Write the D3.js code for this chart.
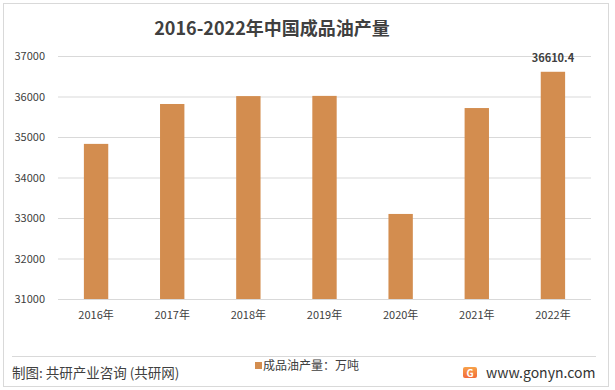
<!DOCTYPE html>
<html lang="zh">
<head>
<meta charset="utf-8">
<title>2016-2022年中国成品油产量</title>
<script src="https://cdn.jsdelivr.net/npm/d3@7"></script>
<style>
  body { margin: 0; background: #fff; }
  text { font-family: "Noto Sans CJK SC", "Noto Sans", sans-serif; }
  .grid line { stroke: #d9d9d9; }
  .grid path { display: none; }
  .tick text { fill: #404040; font-size: 11px; }
</style>
</head>
<body>
<script>
// data
var years = ["2016年", "2017年", "2018年", "2019年", "2020年", "2021年", "2022年"];
var output = [34830, 35815, 36010, 36015, 33100, 35715, 36610.4];
var yTicks = [31000, 32000, 33000, 34000, 35000, 36000, 37000];

var w = 615, h = 390;
var plotLeft = 58, plotRight = 591, plotTop = 56, plotBottom = 299;

var svg = d3.select("body").append("svg")
  .attr("width", w)
  .attr("height", h);

// outer frame
svg.append("rect")
  .attr("x", 3.5).attr("y", 3.5)
  .attr("width", 605).attr("height", 383)
  .attr("fill", "#fff")
  .attr("stroke", "#d9d9d9");

var x = d3.scaleBand().domain(years).range([plotLeft, plotRight]).paddingInner(0.68).paddingOuter(0.34);
var y = d3.scaleLinear().domain([31000, 37000]).range([plotBottom, plotTop]);

// gridlines + y labels
svg.append("g")
  .attr("class", "grid")
  .attr("transform", "translate(" + plotLeft + ",0)")
  .call(d3.axisLeft(y).tickValues(yTicks).tickSize(-(plotRight - plotLeft)).tickPadding(13).tickFormat(d3.format("d")));

// bars
svg.selectAll(".bar")
  .data(output)
  .enter().append("rect")
  .attr("class", "bar")
  .attr("x", function(d, i) { return x(years[i]); })
  .attr("y", function(d) { return y(d); })
  .attr("width", x.bandwidth())
  .attr("height", function(d) { return plotBottom - y(d); })
  .attr("fill", "#d38d4f");

// x axis labels
svg.append("g")
  .attr("class", "grid")
  .attr("transform", "translate(0," + plotBottom + ")")
  .call(d3.axisBottom(x).tickSize(0).tickPadding(12));

// last value label
var last = output.length - 1;
svg.append("text")
  .attr("x", x(years[last]) + x.bandwidth() / 2)
  .attr("y", y(output[last]) - 10)
  .attr("text-anchor", "middle")
  .attr("fill", "#404040")
  .style("font-size", "11px")
  .style("font-weight", "bold")
  .text("36610.4");

// title
svg.append("text")
  .attr("x", 272)
  .attr("y", 35)
  .attr("text-anchor", "middle")
  .attr("fill", "#404040")
  .style("font-size", "18px")
  .style("font-weight", "bold")
  .text("2016-2022年中国成品油产量");

// footer
svg.append("line")
  .attr("x1", 12).attr("x2", 596)
  .attr("y1", 356.5).attr("y2", 356.5)
  .attr("stroke", "#d9d9d9");

svg.append("text")
  .attr("x", 12).attr("y", 378)
  .attr("fill", "#404040")
  .style("font-size", "13.5px")
  .text("制图: 共研产业咨询 (共研网)");

svg.append("rect")
  .attr("x", 255).attr("y", 362)
  .attr("width", 7).attr("height", 7)
  .attr("fill", "#d38d4f");

svg.append("text")
  .attr("x", 263).attr("y", 370)
  .attr("fill", "#404040")
  .style("font-size", "12px")
  .text("成品油产量：万吨");

// logo
var grad = svg.append("defs").append("linearGradient")
  .attr("id", "logoGrad")
  .attr("x1", 0).attr("y1", 0).attr("x2", 0).attr("y2", 1);
grad.append("stop").attr("offset", "0%").attr("stop-color", "#f7a24a");
grad.append("stop").attr("offset", "100%").attr("stop-color", "#f26b3a");

svg.append("rect")
  .attr("x", 463).attr("y", 367)
  .attr("width", 14).attr("height", 11)
  .attr("rx", 2)
  .attr("fill", "url(#logoGrad)");
svg.append("text")
  .attr("x", 470).attr("y", 376.5)
  .attr("text-anchor", "middle")
  .attr("fill", "#fff")
  .style("font-size", "10px")
  .style("font-weight", "bold")
  .text("G");

svg.append("text")
  .attr("x", 486).attr("y", 378)
  .attr("fill", "#333")
  .style("font-size", "14px")
  .text("www.gonyn.com");
</script>
</body>
</html>
